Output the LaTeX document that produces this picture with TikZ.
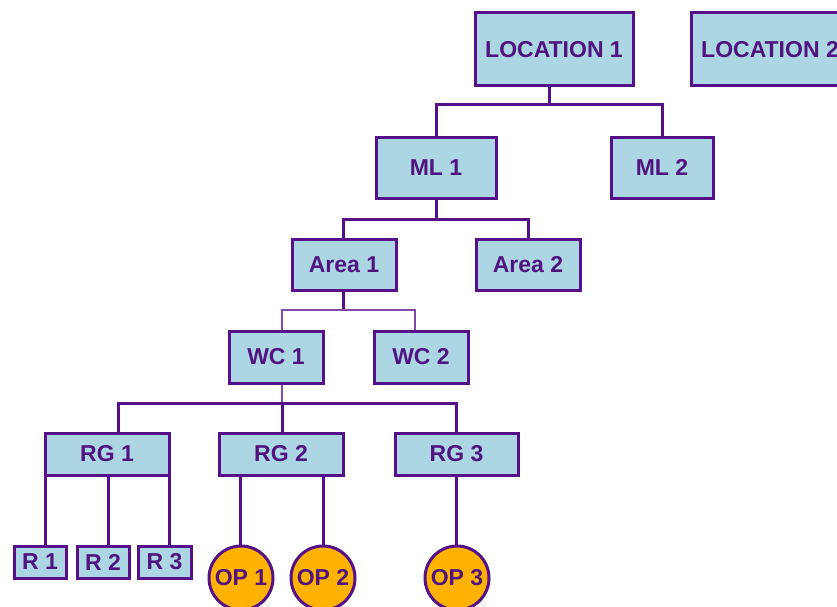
\documentclass[tikz,border=0pt]{standalone}
\usepackage{fontspec}
\setmainfont{Liberation Sans}
\definecolor{edge}{HTML}{55108A}
\definecolor{ink}{HTML}{50147F}
\definecolor{boxfill}{HTML}{ADD6E4}
\definecolor{opfill}{HTML}{FFB300}
\begin{document}
\begin{tikzpicture}[x=1pt,y=-1pt,
  lbl/.style={font=\fontsize{23}{27}\selectfont\bfseries, text=ink, inner sep=0pt},
  unitbox/.style={lbl, draw=edge, line width=3pt, fill=boxfill, rectangle},
  opnode/.style={lbl, draw=edge, line width=3pt, fill=opfill, circle, minimum size=64pt},
  conn/.style={draw=edge, line width=3pt},
  lightconn/.style={draw=edge!75, line width=2.2pt}]
\clip (0,0) rectangle (837,607);
\fill[white] (0,0) rectangle (837,607);

% top level
\node[unitbox, minimum width=158pt, minimum height=73pt] (loc1) at (554,49.5) {LOCATION 1};
\node[unitbox, minimum width=158pt, minimum height=73pt] (loc2) at (770,49.5) {LOCATION 2};

% second level
\node[unitbox, minimum width=120pt, minimum height=61pt] (ml1) at (436,167.5) {ML 1};
\node[unitbox, minimum width=102pt, minimum height=61pt] (ml2) at (662,167.5) {ML 2};

% areas
\node[unitbox, minimum width=104pt, minimum height=51pt] (area1) at (344,264.5) {Area 1};
\node[unitbox, minimum width=104pt, minimum height=51pt] (area2) at (528,264.5) {Area 2};

% work centres
\node[unitbox, minimum width=94pt, minimum height=52pt] (wc1) at (276,357) {WC 1};
\node[unitbox, minimum width=94pt, minimum height=52pt] (wc2) at (421,357) {WC 2};

% groups
\node[unitbox, minimum width=124pt, minimum height=42pt] (rg1) at (107,454) {RG 1};
\node[unitbox, minimum width=124pt, minimum height=42pt] (rg2) at (281,454) {RG 2};
\node[unitbox, minimum width=123pt, minimum height=42pt] (rg3) at (456.5,454) {RG 3};

% leaves
\node[unitbox, minimum width=52pt, minimum height=32pt] (r1) at (40,562) {R 1};
\node[unitbox, minimum width=52pt, minimum height=32pt] (r2) at (103,562) {R 2};
\node[unitbox, minimum width=53pt, minimum height=32pt] (r3) at (164.5,562) {R 3};
\node[opnode] (op1) at (241,578) {OP 1};
\node[opnode] (op2) at (323,578) {OP 2};
\node[opnode] (op3) at (457,578) {OP 3};

% bus junctions
\coordinate (j1) at (549,105);
\coordinate (j2) at (436,219);
\coordinate (j3) at (344,310);
\coordinate (j4) at (282,403);

% connectors
\draw[conn] ([xshift=-5pt]loc1.south) -- (j1);
\draw[conn] (ml1.north) |- (j1) -| (ml2.north);

\draw[conn] (ml1.south) -- (j2);
\draw[conn] ([xshift=-1pt]area1.north) |- (j2) -| (area2.north);

\draw[conn] ([xshift=-1pt]area1.south) -- ([xshift=-1pt]j3);
\draw[lightconn] ([xshift=6pt]wc1.north) |- (j3) -| ([xshift=-6pt]wc2.north);

\draw[lightconn] ([xshift=6pt]wc1.south) -- (j4);
\draw[conn] ([xshift=11pt]rg1.north) |- (j4) -| (rg3.north);
\draw[conn] (j4) -- ([xshift=1pt]rg2.north);

\draw[conn] ([xshift=5pt]r1.north) -- ([xshift=5pt]r1.north |- rg1.south);
\draw[conn] ([xshift=5pt]r2.north) -- ([xshift=5pt]r2.north |- rg1.south);
\draw[conn] ([xshift=4.5pt]r3.north) -- ([xshift=4.5pt]r3.north |- rg1.south);

\draw[conn] ([xshift=-1pt]op1.north) -- ([xshift=-1pt]op1.north |- rg2.south);
\draw[conn] (op2.north) -- (op2.north |- rg2.south);
\draw[conn] ([xshift=-1pt]op3.north) -- ([xshift=-1pt]op3.north |- rg3.south);
\end{tikzpicture}
\end{document}
